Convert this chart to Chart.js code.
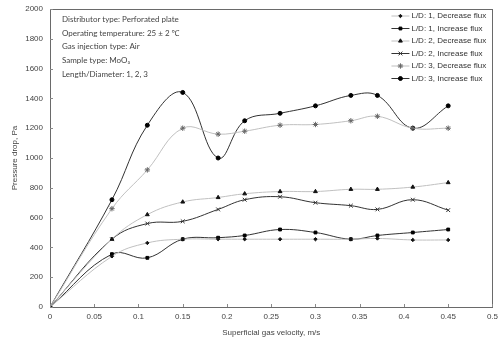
<!DOCTYPE html>
<html>
<head>
<meta charset="utf-8">
<script src="https://cdn.jsdelivr.net/npm/chart.js@4/dist/chart.umd.min.js"></script>
<style>
  html, body { margin: 0; padding: 0; background: #fff; }
  #wrap { width: 503px; height: 343px; }
</style>
</head>
<body>
<div id="wrap"><canvas id="pressure_drop" width="503" height="343"></canvas></div>
<script>
// superficial gas velocity, m/s
var velocity = [0, 0.07, 0.11, 0.15, 0.19, 0.22, 0.26, 0.3, 0.34, 0.37, 0.41, 0.45];

// pressure drop, Pa
var ld1_decrease = [0, 340, 430, 455, 455, 455, 455, 455, 455, 460, 450, 450];
var ld1_increase = [0, 355, 330, 455, 465, 480, 520, 500, 455, 480, 500, 520];
var ld2_decrease = [0, 455, 620, 705, 735, 760, 775, 775, 790, 790, 805, 835];
var ld2_increase = [0, 455, 560, 575, 655, 720, 740, 700, 680, 655, 720, 650];
var ld3_decrease = [0, 660, 920, 1200, 1160, 1180, 1220, 1225, 1250, 1280, 1200, 1200];
var ld3_increase = [0, 720, 1220, 1440, 1000, 1250, 1300, 1350, 1420, 1420, 1200, 1350];

var series_names = [
  'L/D: 1, Decrease flux', 'L/D: 1, Increase flux',
  'L/D: 2, Decrease flux', 'L/D: 2, Increase flux',
  'L/D: 3, Decrease flux', 'L/D: 3, Increase flux'
];

var notes = [
  'Distributor type: Perforated plate',
  'Operating temperature: 25 \u00b1 2 \u2103',
  'Gas injection type: Air',
  'Sample type: MoO\u2083',
  'Length/Diameter: 1, 2, 3'
];

var x_ticks = [0, 0.05, 0.1, 0.15, 0.2, 0.25, 0.3, 0.35, 0.4, 0.45, 0.5];

var DARK = '#333333';
var LIGHT = '#c0c0c0';
var LABEL_FONT = 'Liberation Sans, Arial, sans-serif';

function make_points(values)
{
  var pts = [];
  for (var i = 0; i < velocity.length; i++)
  {
    pts.push({x: velocity[i], y: values[i]});
  }
  return pts;
}

function make_dataset(idx, values, line_color, point_style, point_radius, point_color)
{
  return {
    label: series_names[idx],
    data: make_points(values),
    showLine: true,
    borderColor: line_color,
    borderWidth: 1,
    tension: 0.4,
    pointStyle: point_style,
    pointRadius: point_radius,
    pointBorderWidth: 1,
    pointBackgroundColor: point_color,
    pointBorderColor: point_color
  };
}

// box around the plot, inward ticks, notes block and legend
var frame_plugin = {
  id: 'frame',
  afterDraw: function (chart)
  {
    var ctx = chart.ctx;
    var area = chart.chartArea;
    var xs = chart.scales.x;
    var ys = chart.scales.y;
    ctx.save();

    ctx.strokeStyle = '#6a6a6a';
    ctx.lineWidth = 1;
    ctx.strokeRect(Math.round(area.left) + 0.5, Math.round(area.top) + 0.5,
      Math.round(area.right - area.left), Math.round(area.bottom - area.top));

    ctx.strokeStyle = '#8a8a8a';
    ctx.beginPath();
    for (var i = 0; i < x_ticks.length; i++)
    {
      var px = Math.round(xs.getPixelForValue(x_ticks[i])) + 0.5;
      ctx.moveTo(px, area.bottom);
      ctx.lineTo(px, area.bottom - 3);
    }
    for (var v = 0; v <= 2000; v += 200)
    {
      var py = Math.round(ys.getPixelForValue(v)) + 0.5;
      ctx.moveTo(area.left, py);
      ctx.lineTo(area.left + 3, py);
    }
    ctx.stroke();

    // notes block
    ctx.fillStyle = '#444';
    ctx.font = '8px Lato, "Noto Sans", sans-serif';
    ctx.textBaseline = 'middle';
    ctx.textAlign = 'left';
    for (var n = 0; n < notes.length; n++)
    {
      ctx.fillText(notes[n], area.left + 12, area.top + 10.5 + n * 13.7);
    }

    // legend
    var lx = area.right - 101;
    var ly = area.top + 7;
    ctx.font = '8px ' + LABEL_FONT;
    for (var d = 0; d < chart.data.datasets.length; d++)
    {
      var ds = chart.data.datasets[d];
      var y = ly + d * 12.5;
      ctx.strokeStyle = ds.borderColor;
      ctx.lineWidth = 1;
      ctx.beginPath();
      ctx.moveTo(lx, y);
      ctx.lineTo(lx + 18, y);
      ctx.stroke();
      ctx.fillStyle = ds.pointBackgroundColor;
      ctx.strokeStyle = ds.pointBorderColor;
      Chart.helpers.drawPoint(ctx, {pointStyle: ds.pointStyle, radius: ds.pointRadius, rotation: 0, borderWidth: 1}, lx + 9, y);
      ctx.fillStyle = '#333';
      ctx.fillText(ds.label, lx + 20, y);
    }
    ctx.restore();
  }
};

window.onload = function ()
{
  var datasets = [
    make_dataset(0, ld1_decrease, LIGHT, 'rectRot', 1.7, '#111'),
    make_dataset(1, ld1_increase, DARK, 'rect', 2, '#000'),
    make_dataset(2, ld2_decrease, LIGHT, 'triangle', 2.2, '#111'),
    make_dataset(3, ld2_increase, DARK, 'crossRot', 2.7, '#333'),
    make_dataset(4, ld3_decrease, LIGHT, 'star', 2.7, '#666'),
    make_dataset(5, ld3_increase, DARK, 'circle', 2, '#000')
  ];

  var ctx = document.getElementById('pressure_drop').getContext('2d');
  new Chart(ctx, {
    type: 'scatter',
    data: { datasets: datasets },
    options: {
      responsive: false,
      animation: false,
      layout: { padding: { top: 9, right: 6, left: 0, bottom: 0 } },
      plugins: {
        legend: { display: false },
        tooltip: { enabled: false }
      },
      scales: {
        x: {
          type: 'linear',
          min: 0,
          max: 0.5,
          grid: { display: false, drawTicks: false },
          border: { display: false },
          afterFit: function (scale) { scale.height = 36; },
          afterBuildTicks: function (scale) {
            scale.ticks = x_ticks.map(function (v) { return {value: v}; });
          },
          ticks: {
            color: '#444',
            font: { family: LABEL_FONT, size: 8 },
            padding: 5,
            maxRotation: 0,
            callback: function (v) { return String(+v.toFixed(2)); }
          },
          title: {
            display: true,
            text: 'Superficial gas velocity, m/s',
            color: '#444',
            font: { family: LABEL_FONT, size: 8 },
            padding: { top: 4, bottom: 5 }
          }
        },
        y: {
          min: 0,
          max: 2000,
          grid: { display: false, drawTicks: false },
          border: { display: false },
          afterFit: function (scale) {
            scale.width = 50;
            scale.paddingTop = 0;
            scale.paddingBottom = 0;
          },
          ticks: {
            stepSize: 200,
            color: '#444',
            font: { family: LABEL_FONT, size: 8 },
            padding: 7,
            callback: function (v) { return String(v); }
          },
          title: {
            display: true,
            text: 'Pressure drop, Pa',
            color: '#444',
            font: { family: LABEL_FONT, size: 8 },
            padding: { top: 10, bottom: 4 }
          }
        }
      }
    },
    plugins: [frame_plugin]
  });
};
</script>
</body>
</html>
